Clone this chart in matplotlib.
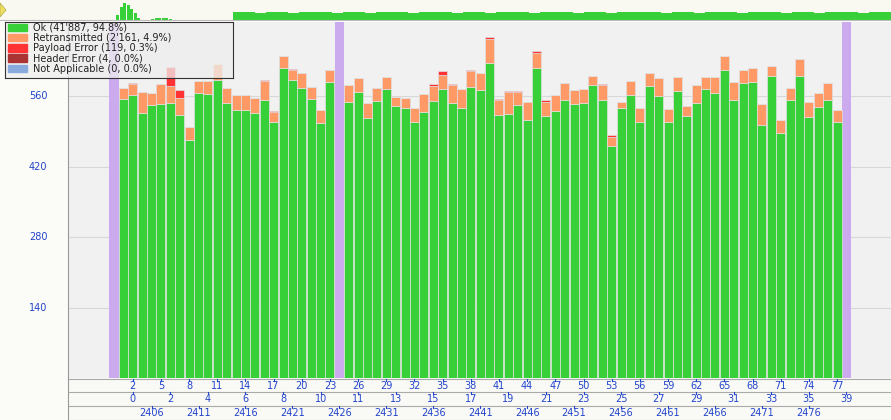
import matplotlib
matplotlib.use("Agg")
import matplotlib.pyplot as plt
import numpy as np

# slot index of each bar (slots 0, 24, 78 are purple separators)
slots = list(range(1, 24)) + list(range(25, 78))
ok = [555, 563, 528, 543, 545, 547, 524, 474, 567, 565, 593, 547, 533, 533, 528, 553, 510, 616, 593, 576, 555, 508, 588,
      549, 568, 517, 551, 575, 541, 536, 510, 529, 551, 574, 547, 536, 579, 573, 627, 524, 525, 543, 514, 617, 521, 531,
      553, 544, 547, 582, 553, 461, 536, 563, 509, 580, 561, 510, 570, 522, 547, 574, 566, 612, 552, 586, 589, 503, 600,
      488, 552, 601, 519, 539, 553, 509]
retrans = [21, 21, 41, 24, 39, 33, 33, 26, 24, 26, 32, 29, 30, 30, 29, 37, 19, 25, 19, 30, 23, 24, 25,
           33, 29, 30, 25, 23, 18, 20, 27, 36, 29, 29, 35, 39, 32, 33, 48, 29, 43, 26, 34, 30, 27, 32,
           33, 28, 28, 19, 29, 19, 13, 28, 28, 26, 35, 25, 28, 19, 35, 24, 32, 28, 36, 27, 27, 41, 21,
           25, 24, 34, 29, 27, 33, 23]
payload = [0, 2, 0, 0, 0, 38, 15, 0, 0, 0, 0, 0, 0, 0, 0, 2, 2, 0, 2, 0, 0, 0, 0,
           0, 0, 0, 0, 1, 0, 0, 0, 0, 5, 8, 3, 0, 2, 0, 3, 2, 2, 1, 0, 4, 5, 0,
           0, 0, 0, 0, 2, 4, 0, 0, 0, 0, 0, 0, 0, 0, 0, 0, 0, 0, 0, 0, 0, 0, 0,
           0, 1, 0, 0, 0, 0, 0]
separators = [0, 24, 78]

legend_labels = ["Ok (41'887, 94.8%)", "Retransmitted (2'161, 4.9%)", "Payload Error (119, 0.3%)",
                 "Header Error (4, 0.0%)", "Not Applicable (0, 0.0%)"]
row1_slots = list(range(2, 78, 3))
row2_slots = [2, 6, 10, 14, 18, 22, 26, 30, 34, 38, 42, 46, 50, 54, 58, 62, 66, 70, 74, 78]
row2_labels = ["0", "2", "4", "6", "8", "10", "11", "13", "15", "17", "19", "21", "23", "25", "27", "29", "31",
               "33", "35", "39"]
row3_slots = list(range(4, 78, 5))
row3_labels = [str(2402 + s) for s in row3_slots]
yticks = [140, 280, 420, 560]

# overview strip (top)
ov_early = [6, 14, 18, 16, 12, 8, 3, 1, 1, 1, 2, 3, 3, 3, 3, 2]
ov_late = [9, 9, 8, 9, 9, 8, 9, 9, 9, 8, 9, 9, 8, 9, 9, 9, 8, 9, 9, 9, 8, 9, 9, 8, 9, 9, 9, 8, 9, 9,
           9, 8, 9, 9, 8, 9, 9, 9, 9, 8, 9, 9, 8, 9, 9, 9, 8, 9, 9, 9, 8, 9, 9, 8, 9, 9, 9, 8, 9, 9]

GREEN = "#38d038"
ORANGE = "#ff9966"
RED = "#ff3333"
DRED = "#aa3333"
BLUE = "#88aadd"
PURPLE = "#ccaaee"
TXT = "#2244cc"

W, H = 891, 420
fig = plt.figure(figsize=(W / 100, H / 100), dpi=100)
fig.patch.set_facecolor("#fbfbf8")

x0, x1 = (68 - 114) / 9.39, (891 - 114) / 9.39

# main plot
ax = fig.add_axes([68 / W, 42 / H, 1 - 68 / W, (378 - 22) / H])
ax.set_facecolor("#f1f1f1")
ax.set_xlim(x0, x1)
ax.set_ylim(0, 708)
for y in yticks:
    ax.axhline(y, color="#d8d8d8", lw=0.8, zorder=0)
ok_a = np.array(ok)
re_a = np.array(retrans)
pe_a = np.array(payload)
kw = dict(width=0.96, edgecolor="#e0e0e0", linewidth=0.5, zorder=2)
ax.bar(slots, ok_a, color=GREEN, **kw)
ax.bar(slots, re_a, bottom=ok_a, color=ORANGE, **kw)
ax.bar(slots, pe_a, bottom=ok_a + re_a, color=RED, **kw)
ax.bar(separators, [708] * 3, color=PURPLE, width=0.96, zorder=1)
ax.set_xticks([])
ax.set_yticks([])
for s in ax.spines.values():
    s.set_visible(False)
ax.spines["left"].set_visible(True)
ax.spines["left"].set_color("#999999")

# y labels in left margin
for y in yticks:
    fig.text(38 / W, (42 + (378 - 22) * y / 708) / H, str(y), color=TXT, fontsize=7,
             ha="center", va="center")

# legend box
lax = fig.add_axes([5 / W, 1 - 78 / H, 228 / W, 56 / H])
lax.set_xlim(0, 228)
lax.set_ylim(56, 0)
lax.patch.set_facecolor("#eeeeee")
lax.patch.set_alpha(0.75)
lax.set_xticks([])
lax.set_yticks([])
for s in lax.spines.values():
    s.set_color("#333333")
    s.set_linewidth(0.8)
for i, (lab, c) in enumerate(zip(legend_labels, [GREEN, ORANGE, RED, DRED, BLUE])):
    yy = 5 + i * 10.3
    lax.add_patch(plt.Rectangle((3, yy - 3.5), 19, 7.5, color=c))
    lax.text(28, yy + 0.3, lab, fontsize=7, va="center", color="#222222")

# overview strip
oax = fig.add_axes([0, 1 - 21 / H, 1, 21 / H])
oax.set_facecolor("#f9f9f2")
oax.set_xlim(0, W)
oax.set_ylim(0, 21)
oax.bar(np.arange(len(ov_early)) * 3.5 + 116, ov_early, width=3.2, color=GREEN, align="edge")
oax.bar(np.arange(len(ov_late)) * (658 / len(ov_late)) + 233, ov_late, width=658 / len(ov_late),
        color=GREEN, align="edge")
oax.fill([0, 6, 0], [4, 11, 18], color="#f0e060", ec="#aaaa44", lw=0.5)
oax.set_xticks([])
oax.set_yticks([])
for s in oax.spines.values():
    s.set_visible(False)
oax.axhline(0.3, color="#bbbbbb", lw=1.5)

# x label rows
xax = fig.add_axes([68 / W, 0, 1 - 68 / W, 42 / H])
xax.set_facecolor("#f9f9f5")
xax.set_xlim(x0, x1)
xax.set_ylim(42, 0)
xax.set_xticks([])
xax.set_yticks([])
for s in xax.spines.values():
    s.set_visible(False)
xax.spines["left"].set_visible(True)
xax.spines["left"].set_color("#999999")
for y in [0.5, 13.5, 27.5, 41.5]:
    xax.axhline(y, color="#aaaaaa", lw=0.8)
for row, (ss, labs) in enumerate([(row1_slots, [str(s) for s in row1_slots]),
                                  (row2_slots, row2_labels), (row3_slots, row3_labels)]):
    top = [0.5, 13.5, 27.5][row]
    for s, lab in zip(ss, labs):
        xax.plot([s, s], [top, top + 2.5], color=TXT, lw=0.8)
        xax.text(s, top + 7.5, lab, fontsize=7, color=TXT, ha="center", va="center")

fig.savefig("out.png", dpi=100, facecolor=fig.get_facecolor())
